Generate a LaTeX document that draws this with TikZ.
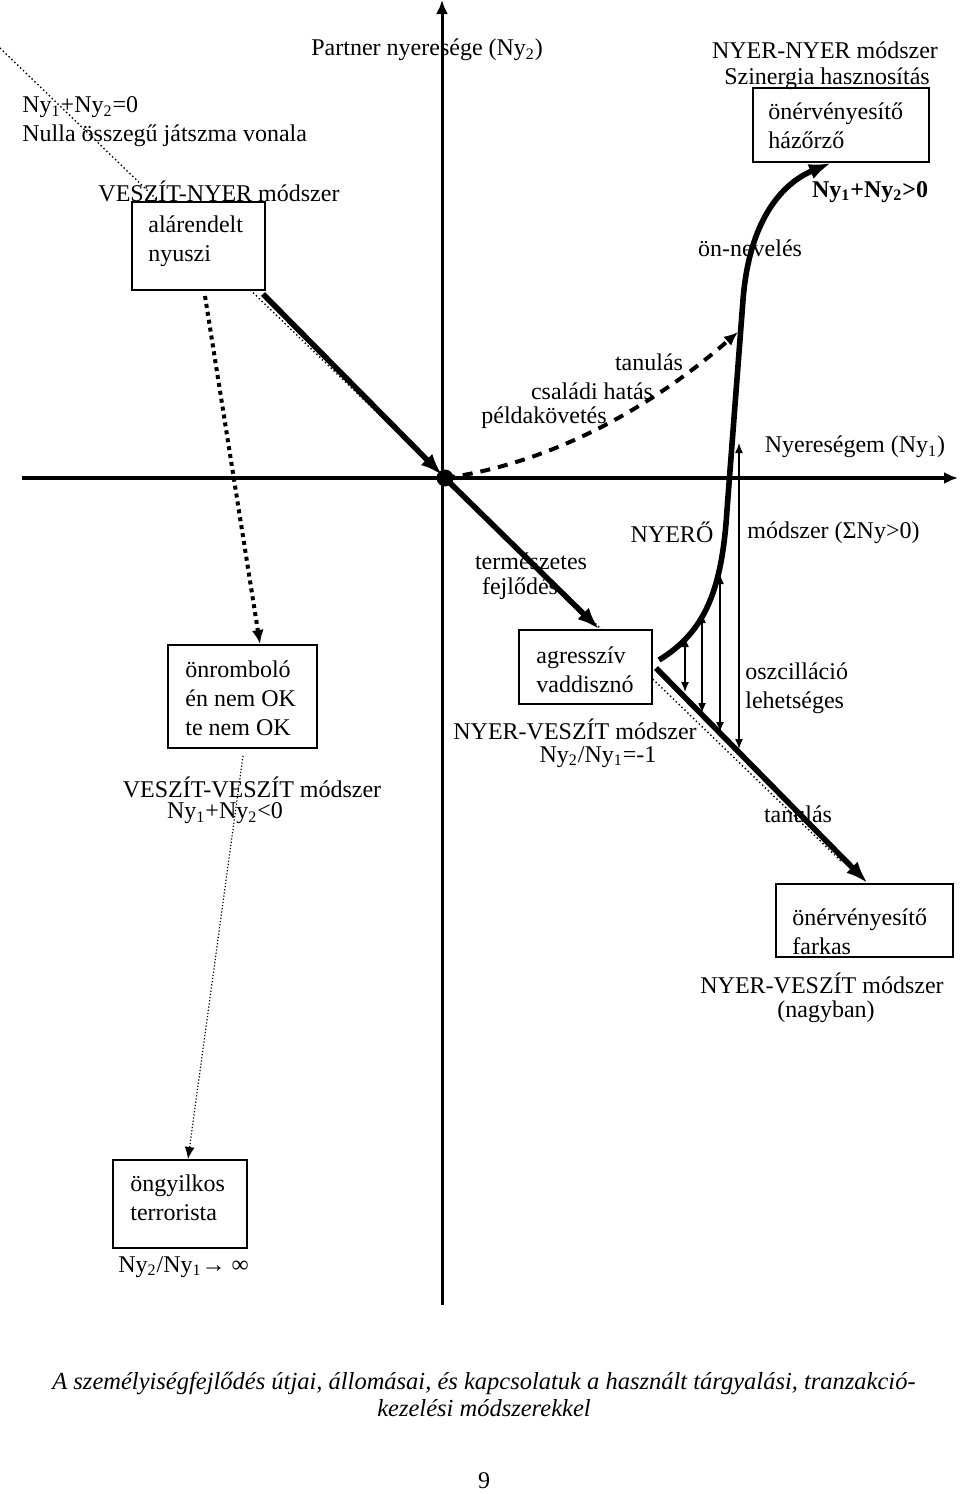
\documentclass[tikz,border=0pt]{standalone}
\usepackage{fontspec}
\setmainfont{Liberation Serif}
\usetikzlibrary{arrows.meta,calc}
\begin{document}
\begin{tikzpicture}[x=0.5pt,y=-0.5pt,
  every node/.style={inner sep=0pt, font=\fontsize{12}{14.5}\selectfont},
  lbll/.style={align=left, anchor=west},
  box/.style={draw, line width=1pt, fill=white},
  bigarrow/.style={line width=2.8pt, -{Latex[length=11pt,width=8pt]}},
  axisline/.style={-{Latex[length=7pt,width=6pt]}},
  osc/.style={line width=0.7pt, {Latex[length=5pt,width=4pt]}-{Latex[length=5pt,width=4pt]}},
  zeroline/.style={line width=0.7pt, dash pattern=on 0.7pt off 1.3pt},
  sqdots/.style={line width=2pt, dash pattern=on 2pt off 2pt, -{Latex[length=7pt,width=6pt]}},
  finedots/.style={line width=0.6pt, dash pattern=on 0.6pt off 1pt, -{Latex[length=6pt,width=5pt]}},
  dasharrow/.style={line width=2pt, dash pattern=on 5pt off 4pt, -{Latex[length=7pt,width=6pt]}},
]
\useasboundingbox (0,0) rectangle (960,1494);

% zero-sum line
\coordinate (zl1) at (0,48);
\coordinate (zl2) at (842,862);
\draw[zeroline] (zl1) -- (zl2);

% axes
\coordinate (hx0) at (22,478);
\coordinate (hx1) at (958,478);
\coordinate (vy0) at (442,1305);
\coordinate (vy1) at (442,0);
\draw[axisline, line width=2pt] (hx0) -- (hx1);
\draw[axisline, line width=1.5pt] (vy0) -- (vy1);

% boxes
\node[box, minimum width=66.5pt, minimum height=44pt] (nyuszi) at (198.5,246) {};
\node[box, minimum width=88pt, minimum height=37pt] (hazorzo) at (841,125) {};
\node[box, minimum width=74.5pt, minimum height=51.5pt] (onrombolo) at (242.5,696.5) {};
\node[box, minimum width=66.5pt, minimum height=37pt] (agr) at (585.5,667) {};
\node[box, minimum width=88.5pt, minimum height=36.5pt] (farkas) at (864.5,920.5) {};
\node[box, minimum width=67pt, minimum height=44pt] (terror) at (180,1204) {};

% origin dot
\node[circle, fill, minimum size=8.5pt] (O) at (445,478) {};

% thick paths
\draw[bigarrow, shorten >=2pt] ($(nyuszi.south east)+(-3,3)$) -- (O.center);
\draw[bigarrow] (O.center) -- ($(agr.north west)+(81,0)$);
\draw[bigarrow] ($(agr.east)+(3,1)$) -- ($(farkas.north)+(3,0)$);
\draw[bigarrow] ($(agr.east)+(6,-7)$) .. controls (705,632) and (722,590) .. (727,510)
   -- (743,300) .. controls (750,210) and (790,180) .. ($(hazorzo.south)+(-10,0)$);

% dashed learning curve
\coordinate (dashend) at (738,332);
\draw[dasharrow] (O.center) .. controls (560,462) and (660,400) .. (dashend);

% square-dotted and fine-dotted arrows
\draw[sqdots] ($(nyuszi.south)+(6.5,5)$) -- ($(onrombolo.north)+(17.5,0)$);
\draw[finedots] ($(onrombolo.south)+(0.5,7)$) -- ($(terror.north)+(8,0)$);

% oscillation arrows
\coordinate (o1t) at (685,637); \coordinate (o1b) at (685,692);
\coordinate (o2t) at (702,613); \coordinate (o2b) at (702,713);
\coordinate (o3t) at (720,574); \coordinate (o3b) at (720,732);
\coordinate (o4t) at (739,443); \coordinate (o4b) at (739,749);
\draw[osc] (o1b) -- (o1t);
\draw[osc] (o2b) -- (o2t);
\draw[osc] (o3b) -- (o3t);
\draw[osc] (o4b) -- (o4t);

% box texts
\node[lbll] (nyusziT) at (148,241) {alárendelt\\nyuszi};
\node[lbll] (hazorzoT) at (768,126) {önérvényesítő\\házőrző};
\node[lbll] (onromboloT) at (185,698) {önromboló\\én nem OK\\te nem OK};
\node[lbll] (agrT) at (536,670) {agresszív\\vaddisznó};
\node[lbll] (farkasT) at (792,932) {önérvényesítő\\farkas};
\node[lbll] (terrorT) at (130,1198) {öngyilkos\\terrorista};

% labels
\node[anchor=west] (partner) at (311,50) {Partner nyeresége (Ny\textsubscript{2})};
\node[lbll] (nulla) at (22,122) {Ny\textsubscript{1}+Ny\textsubscript{2}=0\\Nulla összegű játszma vonala};
\node (veszitnyer) at (219,191) {VESZÍT-NYER módszer};
\node (nyernyer) at (825,50) {NYER-NYER módszer};
\node (szinergia) at (827,79) {Szinergia hasznosítás};
\node[font=\fontsize{12}{14.5}\selectfont\bfseries] (pos) at (870,192) {Ny\textsubscript{1}+Ny\textsubscript{2}>0};
\node (onnev) at (750,248) {ön-nevelés};
\node (tan1) at (649,362) {tanulás};
\node (csal) at (592,391) {családi hatás};
\node (pelda) at (544,418) {példakövetés};
\node (nyer1) at (855,447) {Nyereségem (Ny\textsubscript{1})};
\node (nyero) at (672,532) {NYERŐ};
\node[anchor=west] (modsz) at (747,533) {módszer (ΣNy>0)};
\node (term) at (531,561) {természetes};
\node (fejl) at (520,589) {fejlődés};
\node[lbll] (oszc) at (745,688) {oszcilláció\\lehetséges};
\node (nyv) at (575,729) {NYER-VESZÍT módszer};
\node (ratio) at (598,757) {Ny\textsubscript{2}/Ny\textsubscript{1}=-1};
\node (tan2) at (798,814) {tanulás};
\node (nyv2) at (822,983) {NYER-VESZÍT módszer};
\node (nagy) at (826,1012) {(nagyban)};
\node (vv) at (252,787) {VESZÍT-VESZÍT módszer};
\node (neg) at (225,813) {Ny\textsubscript{1}+Ny\textsubscript{2}<0};
\node[anchor=west] (inf) at (118,1267) {Ny\textsubscript{2}/Ny\textsubscript{1}→ ∞};

% caption
\node[align=center, font=\fontsize{12.25}{13.5}\selectfont\itshape] (cap) at (484,1394.5)
  {A személyiségfejlődés útjai, állomásai, és kapcsolatuk a használt tárgyalási, tranzakció-\\kezelési módszerekkel};
\node (page) at (484,1481) {9};
\end{tikzpicture}
\end{document}
